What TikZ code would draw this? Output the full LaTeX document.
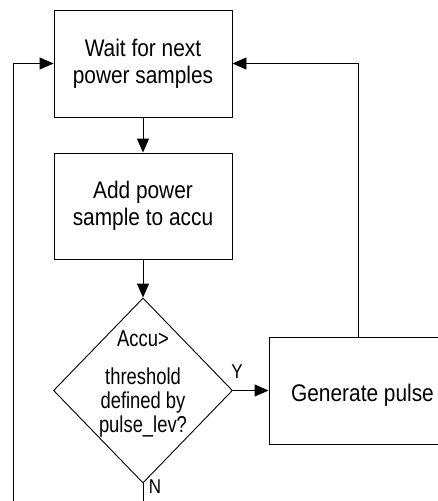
\documentclass[tikz,border=0pt]{standalone}
\usepackage{fontspec}
\setmainfont{Liberation Sans}
\newfontfamily\boxfont[FakeStretch=0.87]{Liberation Sans}
\newfontfamily\diafont[FakeStretch=0.8]{Liberation Sans}
\newfontfamily\lblfont[FakeStretch=0.85]{Liberation Sans}
\usetikzlibrary{arrows.meta,shapes.geometric}
\begin{document}
\begin{tikzpicture}[x=1pt,y=-1pt,
  line width=0.9pt,
  flow/.style={-{Triangle[length=14pt,width=12pt]}},
  procbox/.style={draw, rectangle, inner sep=0pt, align=center,
    font=\boxfont\fontsize{24}{27}\selectfont},
  decbox/.style={draw, diamond, inner sep=0pt},
  diatext/.style={anchor=base, inner sep=0pt,
    font=\diafont\fontsize{23}{24}\selectfont},
  lbl/.style={inner sep=0pt, font=\lblfont\fontsize{20}{24}\selectfont}]
\useasboundingbox (0,0) rectangle (438,501);

\node[procbox, minimum width=178pt, minimum height=107pt] (wait) at (143,63.5)
  {Wait for next\\power samples};
\node[procbox, minimum width=178pt, minimum height=106pt] (add) at (143,206)
  {Add power\\sample to accu};
\node[decbox, minimum width=179pt, minimum height=185pt] (dec) at (143,390.5) {};
\node[diatext] (t1) at (143,346) {Accu>};
\node[diatext] (t2) at (143,384) {threshold};
\node[diatext] (t3) at (143,408) {defined by};
\node[diatext] (t4) at (143,432) {pulse\_lev?};
\node[procbox, minimum width=187pt, minimum height=107pt,
  text height=27pt, text depth=5pt] (gen) at (362.5,390.5) {Generate pulse};

\node[lbl] (ylab) at (237,372) {Y};
\node[lbl] (nlab) at (155,487) {N};

\coordinate (nb) at (143,512);
\coordinate (lb) at (13,512);

\draw[flow] (wait.south) -- (add.north);
\draw[flow] (add.south) -- (dec.north);
\draw[flow] (dec.east) -- (gen.west);
\draw[flow] ([xshift=-4.5pt]gen.north) |- (wait.east);
\draw[flow] (dec.south) -- (nb) -- (lb) |- (wait.west);
\end{tikzpicture}
\end{document}
